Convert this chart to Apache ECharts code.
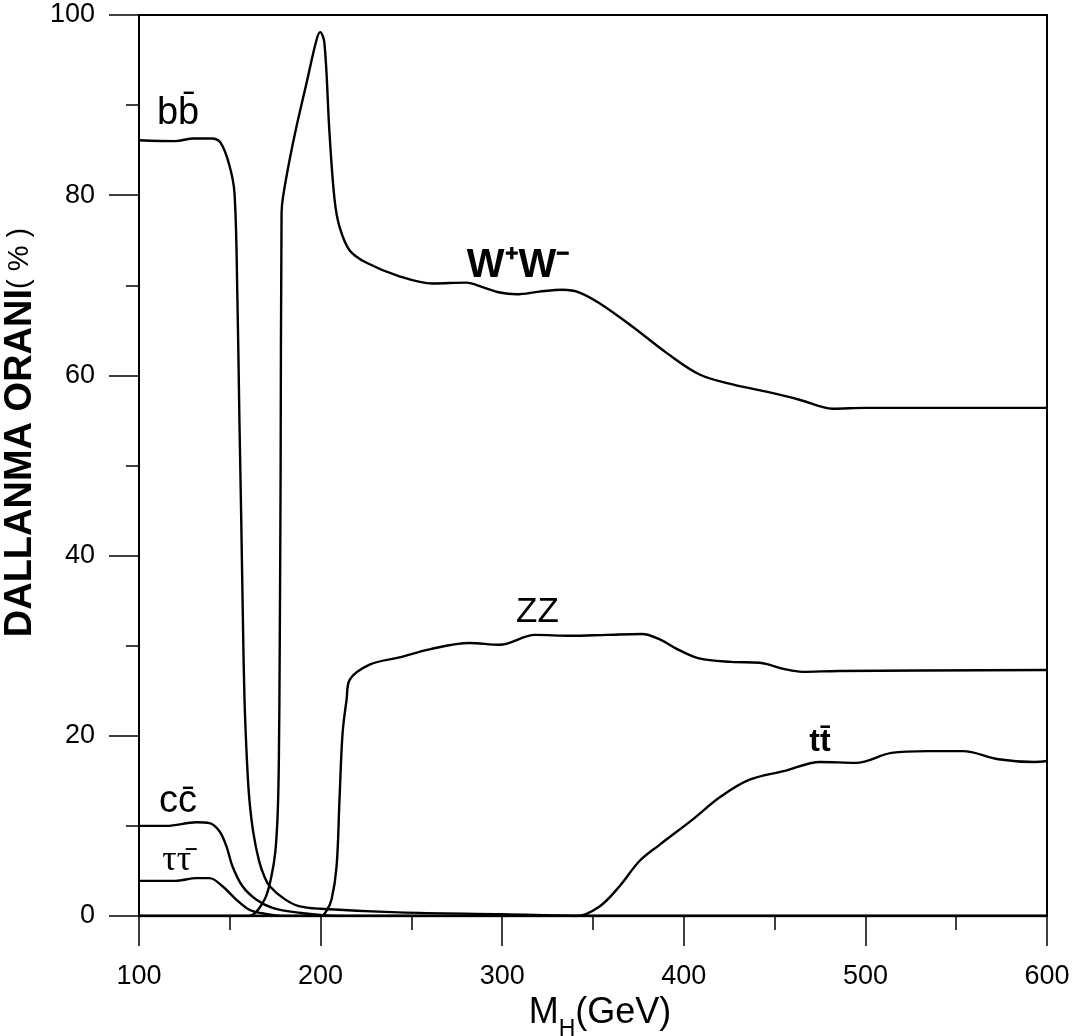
<!DOCTYPE html>
<html>
<head>
<meta charset="utf-8">
<script src="https://cdn.jsdelivr.net/npm/echarts@6/dist/echarts.min.js"></script>
<style>
  html, body { margin: 0; padding: 0; background: #fff; }
  #chart { width: 1084px; height: 1036px; }
</style>
</head>
<body>
<div id="chart"></div>
<script>
// branching ratios (%), [M_H in GeV, BR]
const bbData = [[100, 86.1], [120, 86.0], [130, 86.3], [140, 86.3], [145, 85.8], [149.8, 83.3], [152.6, 80.2], [154.2, 68.4], [155.3, 55], [156.3, 44], [157.2, 33], [158.1, 24], [159.5, 17], [160.8, 12.9], [163, 9.2], [166, 6.2], [169, 4.4], [172, 3.3], [180, 1.9], [188, 1.1], [200, 0.8], [243, 0.4], [300, 0.2], [350, 0], [600, 0]]
const wwData = [[100, 0], [160, 0], [163, 0.2], [166, 0.8], [170, 2.2], [173, 4.5], [175, 7], [176.3, 11], [177, 17], [177.5, 30], [178, 50], [178.5, 78], [179.3, 79.8], [183, 84], [186.7, 87.6], [192.2, 92.4], [197.7, 97.2], [199.8, 98.1], [202.1, 96.9], [204.9, 86.9], [207.7, 79.5], [210.4, 76.5], [215.9, 73.9], [225.3, 72.5], [243.4, 71.0], [261.6, 70.2], [280.3, 70.3], [289.2, 69.8], [298.6, 69.2], [307.9, 69.0], [320.5, 69.3], [333.2, 69.5], [342.6, 69.2], [353.6, 68.0], [371.8, 65.4], [390.5, 62.5], [408.7, 60.1], [426.8, 59.0], [445.5, 58.2], [463.7, 57.3], [476.4, 56.5], [481.9, 56.3], [500, 56.4], [600, 56.4]]
const zzData = [[100, 0], [200, 0], [203, 0.5], [206, 1.8], [208.8, 5.5], [210.4, 12.9], [212.1, 20.3], [214.3, 24.0], [216, 26.2], [227, 27.9], [243.4, 28.7], [260, 29.6], [282, 30.3], [298.5, 30.1], [318.1, 31.2], [337.8, 31.1], [357.4, 31.2], [377, 31.3], [386.8, 30.7], [396.6, 29.6], [408.4, 28.6], [426, 28.2], [441.8, 28.1], [455.5, 27.4], [465.3, 27.1], [485, 27.2], [600, 27.3]]
const ttData = [[100, 0], [341, 0], [353.6, 1.06], [364.6, 3.3], [375.6, 6.1], [386.6, 7.9], [404.8, 10.7], [420, 13.2], [435.9, 15.1], [455.5, 16.1], [475.1, 17.1], [494.8, 17.0], [514.4, 18.1], [534, 18.3], [553.6, 18.3], [573.3, 17.4], [592.9, 17.1], [600, 17.2]]
const ccData = [[100, 10.0], [115, 10.0], [131.7, 10.4], [138.8, 10.3], [144.3, 9.4], [148.2, 7.7], [151.5, 5.5], [157, 3.3], [164.7, 1.8], [173.5, 0.9], [186.7, 0.4], [210, 0], [600, 0]]
const tauData = [[100, 3.9], [120, 3.9], [131.7, 4.2], [138.8, 4.2], [146, 3.3], [153.7, 1.8], [160.8, 0.7], [168, 0.3], [180, 0], [600, 0]]

// curve annotations
const labelText = ['bb\u0304', 'W\u207AW\u207B', 'ZZ', 'tt\u0304', 'cc\u0304', '\u03C4\u03C4\u0304']
const labelX = [121.5, 309, 319.4, 475, 121.5, 120.8]
const labelY = [89.1, 72.2, 33.7, 19.3, 12.7, 6.1]

const font = '\'Liberation Sans\', Arial, sans-serif'
const labelFont = {
  'W\u207AW\u207B': { fontSize: 40, fontWeight: 'bold' },
  'ZZ': { fontSize: 35 },
  'tt\u0304': { fontSize: 32, fontWeight: 'bold' },
  '\u03C4\u03C4\u0304': { fontSize: 36, fontFamily: '\'Liberation Serif\', serif' },
}

function curve(name, data) {
  return {
    name,
    type: 'line',
    data,
    showSymbol: false,
    smooth: 0.35,
    lineStyle: { color: '#000', width: 2.4 },
    z: 3,
  }
}

const chart = echarts.init(document.getElementById('chart'))

chart.setOption({
  backgroundColor: '#fff',
  animation: false,
  grid: {
    left: 139,
    right: 37,
    top: 15,
    bottom: 120,
    outerBoundsMode: 'none',
    show: true,
    borderColor: '#000',
    borderWidth: 2,
  },
  xAxis: {
    type: 'value',
    min: 100,
    max: 600,
    interval: 100,
    name: '{m|M}{h|H}{m|(GeV)}',
    nameLocation: 'middle',
    nameGap: 76,
    nameTextStyle: {
      padding: [0, 0, 0, 14],
      rich: {
        m: { fontSize: 36, fontFamily: font, color: '#000', lineHeight: 36, verticalAlign: 'top' },
        h: { fontSize: 23, fontFamily: font, color: '#000', lineHeight: 46, verticalAlign: 'bottom' },
      },
    },
    axisLine: { lineStyle: { color: '#000', width: 2 } },
    axisTick: { length: 30, lineStyle: { color: '#000', width: 1.5 } },
    minorTick: { show: true, splitNumber: 2, length: 14, lineStyle: { color: '#000', width: 1.5 } },
    splitLine: { show: false },
    axisLabel: { fontSize: 27, fontFamily: font, color: '#000', margin: 47 },
  },
  yAxis: {
    type: 'value',
    min: 0,
    max: 100,
    interval: 20,
    name: '{b|DALLANMA ORANI}{p|( % )}',
    nameLocation: 'middle',
    nameGap: 88,
    nameTextStyle: {
      padding: [0, 0, 0, 66],
      rich: {
        b: { fontSize: 38, fontWeight: 'bold', fontFamily: font, color: '#000' },
        p: { fontSize: 29, fontFamily: font, color: '#000' },
      },
    },
    axisLine: { lineStyle: { color: '#000', width: 2 } },
    axisTick: { length: 30, lineStyle: { color: '#000', width: 1.5 } },
    minorTick: { show: true, splitNumber: 2, length: 13, lineStyle: { color: '#000', width: 1.5 } },
    splitLine: { show: false },
    axisLabel: { fontSize: 27, fontFamily: font, color: '#000', margin: 44 },
  },
  series: [
    curve('bb', bbData),
    curve('WW', wwData),
    curve('ZZ', zzData),
    curve('tt', ttData),
    curve('cc', ccData),
    curve('tautau', tauData),
    {
      name: 'labels',
      type: 'scatter',
      symbolSize: 0,
      silent: true,
      itemStyle: { opacity: 1 },
      z: 5,
      data: labelText.map((t, i) => ({
        value: [labelX[i], labelY[i]],
        label: {
          show: true,
          position: 'inside',
          formatter: t,
          color: '#000',
          opacity: 1,
          fontSize: 38,
          fontFamily: font,
          ...(labelFont[t] || {}),
        },
      })),
    },
  ],
})
</script>
</body>
</html>
